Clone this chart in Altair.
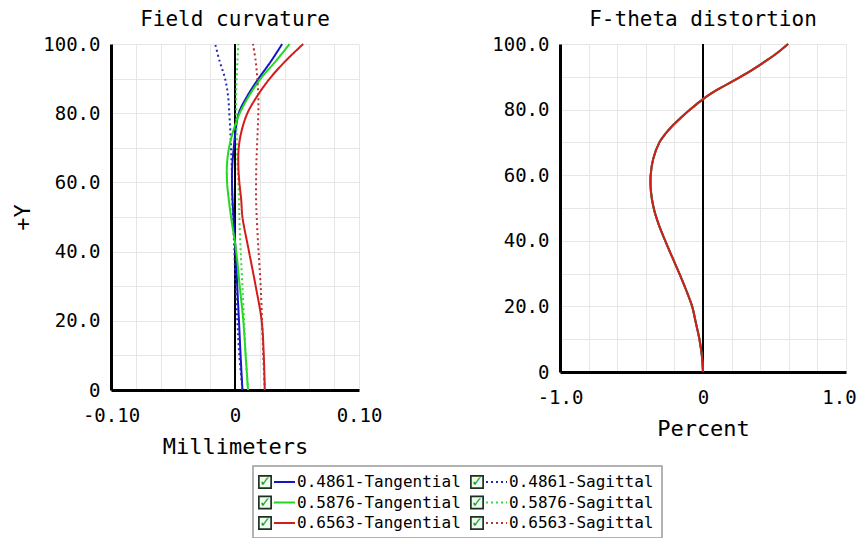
import altair as alt
import pandas as pd

MONO = "DejaVu Sans Mono"

# ---------------- Field curvature (mm) ----------------
field_y = [0, 10, 20, 30, 40, 50, 55, 60, 65, 70, 75, 80, 85, 90, 95, 100]
t_4861 = [0.0060, 0.0045, 0.0032, 0.0018, 0.0005, -0.0012, -0.0020, -0.0024, -0.0022, -0.0010, 0.0005, 0.0030, 0.0100, 0.0190, 0.0290, 0.0380]
s_4861 = [0.0060, 0.0035, 0.0019, 0.0005, -0.0005, -0.0016, -0.0022, -0.0024, -0.0027, -0.0032, -0.0038, -0.0046, -0.0056, -0.0080, -0.0124, -0.0160]
t_5876 = [0.0105, 0.0086, 0.0067, 0.0038, 0.0010, -0.0032, -0.0050, -0.0064, -0.0065, -0.0048, -0.0013, 0.0038, 0.0113, 0.0207, 0.0328, 0.0440]
s_5876 = [0.0105, 0.0086, 0.0073, 0.0060, 0.0046, 0.0035, 0.0032, 0.0027, 0.0020, 0.0016, 0.0013, 0.0010, 0.0010, 0.0013, 0.0020, 0.0027]
t_6563 = [0.0240, 0.0232, 0.0215, 0.0167, 0.0113, 0.0060, 0.0050, 0.0035, 0.0027, 0.0030, 0.0054, 0.0100, 0.0180, 0.0280, 0.0405, 0.0550]
s_6563 = [0.0240, 0.0228, 0.0218, 0.0207, 0.0190, 0.0175, 0.0170, 0.0170, 0.0172, 0.0177, 0.0183, 0.0188, 0.0188, 0.0180, 0.0167, 0.0145]

# ---------------- F-theta distortion (%) ----------------
dist_y = [0, 5, 10, 15, 20, 25, 30, 35, 40, 45, 50, 55, 60, 65, 70, 72.5, 75, 77.5, 80, 82.5,
          85, 87.5, 90, 92.5, 95, 97.5, 100]
dist_pct = [0.0, -0.008, -0.025, -0.050, -0.076, -0.118, -0.165, -0.215, -0.264, -0.310, -0.345, -0.364,
            -0.366, -0.348, -0.305, -0.265, -0.215, -0.155, -0.090, -0.020,
            0.060, 0.160, 0.262, 0.358, 0.445, 0.525, 0.595]

series_names = ["0.4861-Tangential", "0.4861-Sagittal",
                "0.5876-Tangential", "0.5876-Sagittal",
                "0.6563-Tangential", "0.6563-Sagittal"]
series_kind = ["T", "S", "T", "S", "T", "S"]
series_colors = ["#1414c8", "#2626b4", "#22d822", "#3ad83a", "#d41c1c", "#b83232"]
series_values = [t_4861, s_4861, t_5876, s_5876, t_6563, s_6563]
legend_col = [0, 1, 0, 1, 0, 1]
legend_row = [0, 0, 1, 1, 2, 2]

# distortion drawn for the three wavelengths (tangential colour of each)
dist_series = ["0.4861-Tangential", "0.5876-Tangential", "0.6563-Tangential"]

# tick values
fc_xticks = [-0.1, -0.08, -0.06, -0.04, -0.02, 0, 0.02, 0.04, 0.06, 0.08, 0.1]
dt_xticks = [-1.0, -0.8, -0.6, -0.4, -0.2, 0, 0.2, 0.4, 0.6, 0.8, 1.0]
y_ticks = [0, 10, 20, 30, 40, 50, 60, 70, 80, 90, 100]

# ---------------- data frames ----------------
fc_rows = []
for name, kind, vals in zip(series_names, series_kind, series_values):
    for yv, xv in zip(field_y, vals):
        fc_rows.append({"series": name, "kind": kind, "y": yv, "x": xv})
fc_df = pd.DataFrame(fc_rows)

dt_rows = []
for name in dist_series:
    for yv, xv in zip(dist_y, dist_pct):
        dt_rows.append({"series": name, "y": yv, "x": xv})
dt_df = pd.DataFrame(dt_rows)

leg_df = pd.DataFrame({"series": series_names, "kind": series_kind,
                       "col": legend_col, "row": legend_row})

zero_df = pd.DataFrame({"x": [0]})

y_label_expr = "datum.value == 0 ? '0' : (datum.value % 20 == 0 ? format(datum.value, '.1f') : '')"
fc_x_label_expr = ("abs(datum.value) < 1e-9 ? '0' : (abs(abs(datum.value) - 0.1) < 1e-9 ? "
                   "(datum.value < 0 ? '-' : '') + format(abs(datum.value), '.2f') : '')")
dt_x_label_expr = ("abs(datum.value) < 1e-9 ? '0' : (abs(abs(datum.value) - 1) < 1e-9 ? "
                   "(datum.value < 0 ? '-' : '') + format(abs(datum.value), '.1f') : '')")

color_scale = alt.Scale(domain=series_names, range=series_colors)
dash_scale = alt.Scale(domain=["T", "S"], range=[[1, 0], [2, 3]])

title_kw = dict(font=MONO, fontSize=21, fontWeight="normal", color="black", offset=5, anchor="middle")

# ---------------- left chart ----------------
fc_x = alt.X("x:Q", scale=alt.Scale(domain=[-0.1, 0.1], nice=False, zero=False),
             axis=alt.Axis(values=fc_xticks, labelExpr=fc_x_label_expr, title="Millimeters"))
fc_yenc = alt.Y("y:Q", scale=alt.Scale(domain=[0, 100], nice=False),
                axis=alt.Axis(values=y_ticks, labelExpr=y_label_expr, title="+Y"))

fc_zero = alt.Chart(zero_df).mark_rule(color="black", strokeWidth=2).encode(x=fc_x)
fc_lines = alt.Chart(fc_df).mark_line(strokeWidth=2, interpolate="catmull-rom").encode(
    x=fc_x,
    y=fc_yenc,
    color=alt.Color("series:N", scale=color_scale, legend=None),
    strokeDash=alt.StrokeDash("kind:N", scale=dash_scale, legend=None),
    detail="series:N",
    order="y:Q",
)
left = alt.layer(fc_zero, fc_lines).properties(
    width=248, height=346,
    title=alt.TitleParams("Field curvature", **title_kw),
)

# ---------------- right chart ----------------
dt_x = alt.X("x:Q", scale=alt.Scale(domain=[-1, 1], nice=False, zero=False),
             axis=alt.Axis(values=dt_xticks, labelExpr=dt_x_label_expr, title="Percent",
                           labelOffset={"condition": {"test": "datum.value > 0.99", "value": -7},
                                        "value": 0}))
dt_yenc = alt.Y("y:Q", scale=alt.Scale(domain=[0, 100], nice=False),
                axis=alt.Axis(values=y_ticks, labelExpr=y_label_expr, title=None))

dt_zero = alt.Chart(zero_df).mark_rule(color="black", strokeWidth=2).encode(x=dt_x)
dt_base = alt.Chart(dt_df).mark_line(strokeWidth=2, interpolate="catmull-rom").encode(
    x=dt_x,
    y=dt_yenc,
    color=alt.Color("series:N", scale=color_scale, legend=None),
    detail="series:N",
    order="y:Q",
)
dt_under = dt_base.transform_filter(alt.datum.series != "0.6563-Tangential")
dt_top = dt_base.transform_filter(alt.datum.series == "0.6563-Tangential")
right = alt.layer(dt_zero, dt_under, dt_top).properties(
    width=286, height=328,
    title=alt.TitleParams("F-theta distortion", **title_kw),
)

# ---------------- legend ----------------
lx = alt.X("col:Q", scale=alt.Scale(domain=[0, 1], range=[12, 224]), axis=None)
ly = alt.Y("row:Q", scale=alt.Scale(domain=[0, 2], range=[16, 57]), axis=None)
leg_base = alt.Chart(leg_df)
leg_box = leg_base.mark_point(shape="square", size=150, fill="#eefbee", stroke="#1f2f22",
                              strokeWidth=1.7, opacity=1).encode(x=lx, y=ly)
leg_check = leg_base.mark_text(text="✓", color="#12a012", fontSize=14, font="DejaVu Sans",
                               fontWeight="bold").encode(x=lx, y=ly)
leg_line = leg_base.mark_rule(strokeWidth=2, xOffset=9, x2Offset=30).encode(
    x=lx, x2="col:Q", y=ly,
    color=alt.Color("series:N", scale=color_scale, legend=None),
    strokeDash=alt.StrokeDash("kind:N", scale=dash_scale, legend=None),
)
leg_text = leg_base.mark_text(align="left", dx=32, font=MONO, fontSize=16, color="black").encode(
    x=lx, y=ly, text="series:N")
legend_chart = alt.layer(leg_box, leg_check, leg_line, leg_text).properties(
    width=409, height=72,
    view=alt.ViewBackground(stroke="#9a9a9a", strokeWidth=1.5, fill="white"),
)
spacer = alt.Chart(zero_df).mark_point(opacity=0).encode(
    x=alt.X("x:Q", axis=None), y=alt.Y("x:Q", axis=None)
).properties(width=140, height=72)

top_row = alt.hconcat(left, right, spacing=108)
bottom_row = alt.hconcat(spacer, legend_chart, spacing=0)

chart = alt.vconcat(top_row, bottom_row, spacing=7).properties(
    padding={"left": 3, "top": 0, "right": 0, "bottom": 0},
    background="white",
).configure_view(stroke="transparent").configure_axis(
    domainColor="black", domainWidth=3, gridColor="#e6e6e6", gridWidth=1,
    labelFont=MONO, labelFontSize=19, labelColor="black", labelOverlap=False, labelFlush=False,
    titleFont=MONO, titleFontSize=22, titleFontWeight="normal", titleColor="black",
    ticks=False,
).configure_axisX(labelPadding=16, titlePadding=11).configure_axisY(labelPadding=11, titlePadding=8)

chart.save("out.html", embed_options={"renderer": "svg", "actions": False})
